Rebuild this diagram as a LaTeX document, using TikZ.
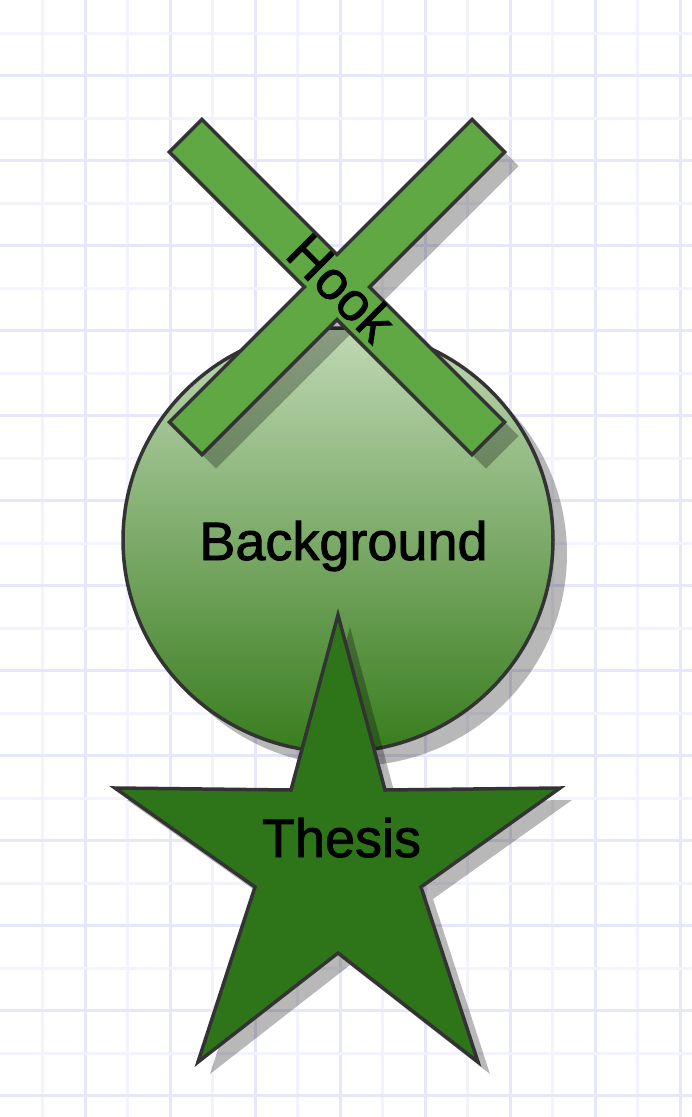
\documentclass[tikz,border=0pt]{standalone}
\usepackage{fontspec}
\setmainfont{Liberation Sans}
\newfontfamily\lblfont[RawFeature={embolden=1.6}]{Liberation Sans}
\definecolor{gridlight}{HTML}{F3F3FD}
\definecolor{griddark}{HTML}{E7E7FB}
\definecolor{outline}{HTML}{333333}
\definecolor{barfill}{HTML}{60A843}
\definecolor{starfill}{HTML}{2E7519}
\definecolor{circtop}{HTML}{BFD8B4}
\definecolor{circbot}{HTML}{397D1E}
\newcommand\xcross{(214,-23) -- (214,23) -- (23,23) -- (23,214) -- (-23,214) -- (-23,23) -- (-214,23) -- (-214,-23) -- (-23,-23) -- (-23,-214) -- (23,-214) -- (23,-23) -- cycle}
\newcommand\starpath{(338,615) -- (385,790) -- (560,788) -- (421,887) -- (478,1062) -- (338,953) -- (198,1062) -- (255,887) -- (115,788) -- (291,790) -- cycle}
\begin{document}
\begin{tikzpicture}[x=1pt,y=-1pt,
  shadowfill/.style={fill=black,opacity=0.28},
  shapeline/.style={draw=outline,line width=3.5pt,line join=miter},
  label/.style={font=\lblfont\fontsize{54}{60}\selectfont,text=black,inner sep=0pt,anchor=base}]
\useasboundingbox (0,0) rectangle (692,1117);
\fill[white] (0,0) rectangle (692,1117);
% grid
\foreach \i in {1,...,16}{
  \pgfmathtruncatemacro\odd{mod(\i,2)}
  \ifnum\odd=1 \def\gc{gridlight}\else\def\gc{griddark}\fi
  \draw[\gc,line width=3pt] (42.5*\i,0) -- (42.5*\i,1117);
}
\foreach \i in {0,...,25}{
  \pgfmathtruncatemacro\odd{mod(\i,2)}
  \ifnum\odd=0 \def\gc{gridlight}\else\def\gc{griddark}\fi
  \draw[\gc,line width=3pt] (0,33+42.5*\i) -- (692,33+42.5*\i);
}
% circle (Background)
\fill[shadowfill] (352,554) ellipse [x radius=215,y radius=212];
\shade[top color=circtop,bottom color=circbot] (338,540) ellipse [x radius=215,y radius=212];
\draw[shapeline] (338,540) ellipse [x radius=215,y radius=212];
% cross (Hook)
\begin{scope}[shift={(351,301)},rotate=45]
  \fill[shadowfill] \xcross;
\end{scope}
\begin{scope}[shift={(337,287)},rotate=45]
  \fill[barfill] \xcross;
  \draw[shapeline] \xcross;
\end{scope}
% star (Thesis)
\begin{scope}[shift={(12,12)}]
  \fill[shadowfill] \starpath;
\end{scope}
\fill[starfill] \starpath;
\draw[shapeline] \starpath;
% labels
\node[label] (bg) at (343.5,560) {Background};
\node[label] (thesis) at (341.5,857) {Thesis};
\node[label,rotate=-45] (hook) at (328,301) {Hook};
\end{tikzpicture}
\end{document}
